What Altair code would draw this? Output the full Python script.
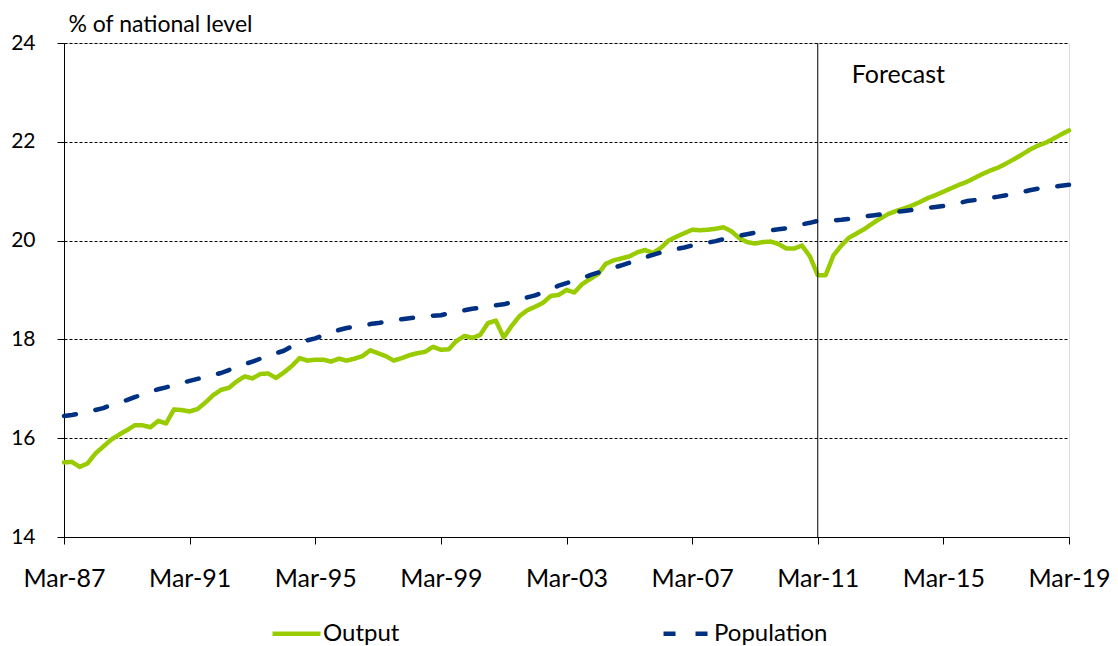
import altair as alt
import pandas as pd

# Quarterly series, Mar-87 .. Mar-19 (129 quarters), % of national level
output_values = [
    15.51, 15.52, 15.42, 15.49, 15.69, 15.83, 15.97, 16.07, 16.16, 16.26,
    16.26, 16.22, 16.35, 16.30, 16.58, 16.57, 16.54, 16.59, 16.72, 16.87,
    16.98, 17.02, 17.15, 17.25, 17.21, 17.30, 17.31, 17.22, 17.33, 17.46,
    17.62, 17.57, 17.59, 17.59, 17.55, 17.61, 17.57, 17.61, 17.66, 17.78,
    17.72, 17.66, 17.57, 17.62, 17.68, 17.72, 17.75, 17.85, 17.79, 17.80,
    17.97, 18.07, 18.03, 18.09, 18.33, 18.38, 18.04, 18.27, 18.47, 18.59,
    18.66, 18.74, 18.88, 18.90, 19.00, 18.95, 19.12, 19.22, 19.32, 19.53,
    19.60, 19.64, 19.68, 19.76, 19.81, 19.75, 19.85, 20.00, 20.08, 20.15,
    20.22, 20.21, 20.22, 20.24, 20.27, 20.19, 20.05, 19.97, 19.94, 19.97,
    19.98, 19.93, 19.84, 19.84, 19.90, 19.68, 19.30, 19.30, 19.70, 19.90,
    20.06, 20.15, 20.24, 20.35, 20.45, 20.54, 20.60, 20.65, 20.71, 20.78,
    20.86, 20.92, 20.99, 21.06, 21.13, 21.19, 21.27, 21.35, 21.42, 21.48,
    21.56, 21.65, 21.74, 21.84, 21.92, 21.98, 22.06, 22.15, 22.23,
]
population_values = [
    16.45, 16.47, 16.50, 16.54, 16.57, 16.61, 16.67, 16.72, 16.77, 16.83,
    16.89, 16.95, 16.99, 17.03, 17.07, 17.12, 17.16, 17.20, 17.24, 17.28,
    17.32, 17.38, 17.44, 17.50, 17.55, 17.61, 17.67, 17.72, 17.77, 17.86,
    17.93, 17.98, 18.02, 18.08, 18.14, 18.19, 18.23, 18.26, 18.28, 18.31,
    18.33, 18.36, 18.39, 18.41, 18.43, 18.45, 18.47, 18.48, 18.49, 18.53,
    18.56, 18.59, 18.62, 18.64, 18.66, 18.69, 18.71, 18.75, 18.80, 18.85,
    18.89, 18.95, 19.01, 19.09, 19.14, 19.19, 19.24, 19.30, 19.35, 19.40,
    19.45, 19.50, 19.55, 19.61, 19.66, 19.71, 19.76, 19.79, 19.83, 19.86,
    19.90, 19.93, 19.96, 19.99, 20.03, 20.06, 20.10, 20.13, 20.16, 20.19,
    20.21, 20.23, 20.25, 20.29, 20.33, 20.36, 20.40, 20.40, 20.41, 20.42,
    20.44, 20.47, 20.49, 20.51, 20.53, 20.55, 20.58, 20.60, 20.62, 20.64,
    20.66, 20.68, 20.70, 20.73, 20.76, 20.80, 20.82, 20.85, 20.87, 20.89,
    20.92, 20.95, 20.98, 21.02, 21.05, 21.07, 21.09, 21.11, 21.13,
]
series_names = ["Output", "Population"]
tick_labels = ["Mar-87", "Mar-91", "Mar-95", "Mar-99", "Mar-03",
               "Mar-07", "Mar-11", "Mar-15", "Mar-19"]
tick_step = 16  # quarters between labelled ticks
forecast_start = 96  # quarter index of Mar-11
forecast_label = "Forecast"
y_title = "% of national level"

FONT = "Lato"
GREEN = "#99CC00"
NAVY = "#003082"

rows = []
for i, v in enumerate(output_values):
    rows.append({"q": i, "value": v, "series": "Output"})
for i, v in enumerate(population_values):
    rows.append({"q": i, "value": v, "series": "Population"})
df = pd.DataFrame(rows)

n_q = len(output_values) - 1
label_arr = "[" + ",".join("'%s'" % t for t in tick_labels) + "]"

x_scale = alt.Scale(domain=[0, n_q], nice=False, zero=False)
y_scale = alt.Scale(domain=[14, 24], nice=False, zero=False)

legend_kw = dict(title=None, orient="none", direction="horizontal",
                 legendX=206, legendY=564, symbolType="stroke",
                 symbolSize=2300, symbolStrokeWidth=4.5,
                 labelFont=FONT, labelFontSize=24, labelColor="black",
                 labelOffset=0, columnPadding=254, padding=0)

lines = alt.Chart(df).mark_line(strokeWidth=4.5, strokeCap="round", strokeJoin="round").encode(
    x=alt.X("q:Q", scale=x_scale,
            axis=alt.Axis(values=list(range(0, n_q + 1, tick_step)),
                          labelExpr=label_arr + "[round(datum.value/%d)]" % tick_step,
                          title=None, grid=False, tickSize=7, tickColor="black",
                          domainColor="black", labelFontSize=25, labelFont=FONT,
                          labelColor="black", labelPadding=22, labelFlush=False)),
    y=alt.Y("value:Q", scale=y_scale,
            axis=alt.Axis(values=[14, 16, 18, 20, 22, 24], title=y_title,
                          titleAngle=0, titleAlign="left", titleBaseline="alphabetic",
                          titleX=4, titleY=-12, titleFont=FONT, titleFontSize=23,
                          titleFontWeight="normal", titleColor="black",
                          grid=True, gridColor="black", gridDash=[3, 2], gridWidth=1,
                          tickSize=7, tickColor="black", domainColor="black",
                          labelFontSize=21, labelFont=FONT, labelColor="black",
                          labelPadding=22)),
    color=alt.Color("series:N", scale=alt.Scale(domain=series_names, range=[GREEN, NAVY]),
                    legend=alt.Legend(**legend_kw)),
    strokeDash=alt.StrokeDash("series:N",
                              scale=alt.Scale(domain=series_names, range=[[1, 0], [12, 20]]),
                              legend=alt.Legend(**legend_kw)),
)

fc_df = pd.DataFrame({"q": [forecast_start], "top": [24], "bottom": [14], "label": [forecast_label]})

rule = alt.Chart(fc_df).mark_rule(color="black", strokeWidth=1).encode(
    x=alt.X("q:Q", scale=x_scale), y=alt.Y("bottom:Q", scale=y_scale), y2="top:Q"
)
text = alt.Chart(fc_df).mark_text(align="left", baseline="alphabetic", dx=34, dy=40,
                                   font=FONT, fontSize=25, color="black").encode(
    x=alt.X("q:Q", scale=x_scale), y=alt.Y("top:Q", scale=y_scale), text="label:N"
)

chart = alt.layer(lines, rule, text).properties(
    width=1005, height=494,
    autosize=alt.AutoSizeParams(type="none"),
    padding={"left": 56, "top": 35, "right": 41, "bottom": 112},
).configure_view(stroke="black", strokeWidth=1).configure(background="white")

chart.save("out.html", embed_options={"renderer": "svg", "actions": False})
